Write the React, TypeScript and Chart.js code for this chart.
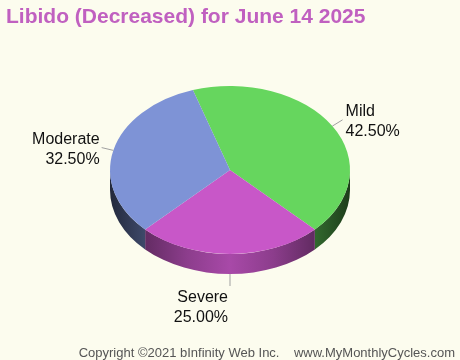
import React, { useEffect, useRef } from "react";
import { Chart, registerables } from "chart.js";

Chart.register(...registerables);

const categories = ["Mild", "Severe", "Moderate"];
const values = [42.5, 25.0, 32.5];
const colors = ["#66D65E", "#C857C8", "#7E93D6"];
const titleText = "Libido (Decreased) for June 14 2025";
const footerText = "Copyright \u00A92021 bInfinity Web Inc.    www.MyMonthlyCycles.com";

const BG = "#FCFCEE";
const FONT = '"Liberation Sans", Arial, sans-serif';
const TILT = 0.7;
const DEPTH = 20;

function shade(hex: string, f: number) {
  const n = parseInt(hex.slice(1), 16);
  const r = Math.round(((n >> 16) & 255) * f);
  const g = Math.round(((n >> 8) & 255) * f);
  const b = Math.round((n & 255) * f);
  return `rgb(${r},${g},${b})`;
}

const pie3d = {
  id: "pie3d",
  beforeDraw(chart: any) {
    const ctx = chart.ctx;
    ctx.save();
    ctx.fillStyle = BG;
    ctx.fillRect(0, 0, chart.width, chart.height);
    ctx.restore();
  },
  beforeDatasetsDraw(chart: any) {
    const ctx = chart.ctx;
    const meta = chart.getDatasetMeta(0);
    const arcs = meta.data;
    if (!arcs.length) return;
    const cx = arcs[0].x;
    const cy = arcs[0].y;
    const rx = arcs[0].outerRadius;
    const ry = rx * TILT;
    arcs.forEach((arc: any, i: number) => {
      const s = arc.startAngle;
      const e = arc.endAngle;
      for (const off of [-2 * Math.PI, 0, 2 * Math.PI]) {
        const a = Math.max(s, off);
        const b = Math.min(e, off + Math.PI);
        if (b <= a) continue;
        const col = colors[i % colors.length];
        const g = ctx.createLinearGradient(cx - rx, 0, cx + rx, 0);
        g.addColorStop(0, shade(col, 0.28));
        g.addColorStop(0.15, shade(col, 0.5));
        g.addColorStop(0.32, shade(col, 0.7));
        g.addColorStop(0.5, shade(col, 0.84));
        g.addColorStop(0.68, shade(col, 0.7));
        g.addColorStop(0.86, shade(col, 0.48));
        g.addColorStop(1, shade(col, 0.28));
        ctx.save();
        ctx.beginPath();
        ctx.ellipse(cx, cy, rx, ry, 0, a, b, false);
        ctx.ellipse(cx, cy + DEPTH, rx, ry, 0, b, a, true);
        ctx.closePath();
        ctx.fillStyle = g;
        ctx.fill();
        ctx.restore();
      }
    });
    ctx.save();
    ctx.translate(0, cy);
    ctx.scale(1, TILT);
    ctx.translate(0, -cy);
  },
  afterDatasetsDraw(chart: any) {
    const ctx = chart.ctx;
    ctx.restore();
    const meta = chart.getDatasetMeta(0);
    const arcs = meta.data;
    if (!arcs.length) return;
    const cx = arcs[0].x;
    const cy = arcs[0].y;
    const rx = arcs[0].outerRadius;
    const ry = rx * TILT;
    const total = values.reduce((p, v) => p + v, 0);
    arcs.forEach((arc: any, i: number) => {
      const mid = (arc.startAngle + arc.endAngle) / 2;
      const c = Math.cos(mid);
      const sn = Math.sin(mid);
      const px = cx + rx * c;
      let py = cy + ry * sn;
      if (sn > 0) py += DEPTH;
      const len = 12;
      const ex = px + len * c;
      const ey = py + len * sn;
      ctx.save();
      ctx.strokeStyle = "#A0A0A0";
      ctx.lineWidth = 1;
      ctx.beginPath();
      ctx.moveTo(px, py);
      ctx.lineTo(ex, ey);
      ctx.stroke();
      ctx.fillStyle = "#111111";
      ctx.font = `16px ${FONT}`;
      ctx.textBaseline = "middle";
      let tx: number;
      if (c > 0.1) {
        ctx.textAlign = "left";
        tx = ex + 3;
      } else {
        ctx.textAlign = "right";
        tx = ex - 2;
      }
      const center = ey + 2 + (sn > 0.5 ? 20 : 0);
      const pct = ((values[i] / total) * 100).toFixed(2) + "%";
      ctx.fillText(categories[i], tx, center - 10);
      ctx.fillText(pct, tx, center + 10);
      ctx.restore();
    });
  },
  afterDraw(chart: any) {
    const ctx = chart.ctx;
    ctx.save();
    ctx.fillStyle = "#C060C0";
    ctx.font = `bold 21px ${FONT}`;
    ctx.textAlign = "left";
    ctx.textBaseline = "alphabetic";
    ctx.fillText(titleText, 6, 23);
    ctx.fillStyle = "#555555";
    ctx.font = `13px ${FONT}`;
    ctx.textAlign = "right";
    ctx.fillText(footerText, 455, 357);
    ctx.restore();
  },
};

export default function App() {
  const ref = useRef<HTMLCanvasElement | null>(null);
  useEffect(() => {
    if (!ref.current) return;
    const chart = new Chart(ref.current, {
      type: "pie",
      data: {
        labels: categories,
        datasets: [
          {
            data: values,
            backgroundColor: colors,
            borderWidth: 0,
          },
        ],
      },
      options: {
        responsive: false,
        animation: false,
        events: [],
        rotation: -18,
        layout: { padding: { left: 110, right: 110, top: 50, bottom: 70 } },
        plugins: {
          legend: { display: false },
          tooltip: { enabled: false },
          title: { display: false },
        },
      } as any,
      plugins: [pie3d],
    });
    return () => chart.destroy();
  }, []);
  return (
    <div style={{ position: "fixed", left: 0, top: 0, width: 460, height: 360, background: BG }}>
      <canvas ref={ref} width={460} height={360} style={{ width: 460, height: 360 }} />
    </div>
  );
}
